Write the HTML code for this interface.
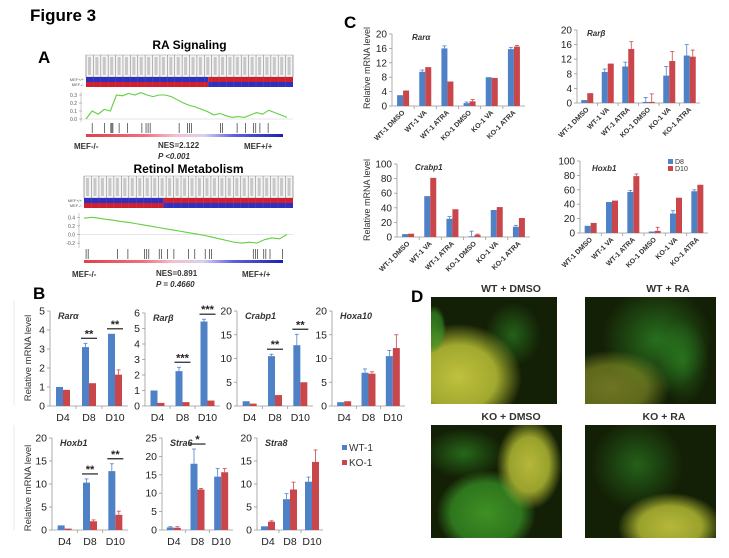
<!DOCTYPE html>
<html><head><meta charset="utf-8"><style>
html,body{margin:0;padding:0;background:#fff;}
svg{display:block;font-family:"Liberation Sans",sans-serif;}
</style></head><body>
<svg id="fig" width="729" height="558" viewBox="0 0 729 558" xmlns="http://www.w3.org/2000/svg">
<defs>
<linearGradient id="gsea" x1="0" x2="1" y1="0" y2="0"><stop offset="0" stop-color="#e0404a"/><stop offset="0.3" stop-color="#f07080"/><stop offset="0.45" stop-color="#f4c0d0"/><stop offset="0.6" stop-color="#d8d0f0"/><stop offset="0.75" stop-color="#6060e0"/><stop offset="1" stop-color="#2020b0"/></linearGradient>
<radialGradient id="yel" cx="0.5" cy="0.5" r="0.5"><stop offset="0" stop-color="#c8c840"/><stop offset="0.6" stop-color="#a8b030"/><stop offset="1" stop-color="#a8b030" stop-opacity="0"/></radialGradient>
<radialGradient id="grn" cx="0.5" cy="0.5" r="0.5"><stop offset="0" stop-color="#38b030"/><stop offset="1" stop-color="#38b030" stop-opacity="0"/></radialGradient>
<radialGradient id="grn2" cx="0.5" cy="0.5" r="0.5"><stop offset="0" stop-color="#50c030"/><stop offset="0.7" stop-color="#3a9a28"/><stop offset="1" stop-color="#3a9a28" stop-opacity="0"/></radialGradient>
</defs>
<text x="30" y="21" font-size="17" font-weight="bold">Figure 3</text>
<text x="38" y="63" font-size="17" font-weight="bold">A</text>
<text x="33" y="299" font-size="17" font-weight="bold">B</text>
<text x="344" y="28" font-size="17" font-weight="bold">C</text>
<text x="411" y="302" font-size="17" font-weight="bold">D</text>
<g id="panelA"></g>
<g id="panelB"></g>
<g id="panelC"></g>
<g id="panelD"></g>
</svg>
<script>
// ---------- Panel A data ----------
const raES = [0.0,0.1,0.06,0.12,0.1,0.3,0.29,0.32,0.3,0.33,0.3,0.28,0.3,0.3,0.28,0.24,0.2,0.17,0.15,0.12,0.09,0.05,0.07,0.04,0.02,0.03,0.02,0.05,0.08,0.06,0.11,0.08,0.05,0.02];
const raHits = [0.03,0.09,0.12,0.125,0.13,0.16,0.2,0.27,0.29,0.3,0.31,0.45,0.49,0.5,0.51,0.65,0.66,0.73,0.77,0.81,0.82,0.84,0.88];
const reES = [0.38,0.4,0.38,0.35,0.33,0.3,0.28,0.25,0.22,0.19,0.16,0.13,0.1,0.07,0.04,0.01,-0.02,-0.06,-0.1,-0.14,-0.18,-0.2,-0.18,-0.2,-0.12,-0.08,-0.1,0.0];
const reHits = [0.01,0.02,0.16,0.21,0.29,0.3,0.31,0.36,0.37,0.4,0.43,0.5,0.53,0.58,0.6,0.61,0.81,0.82,0.83,0.86,0.87,0.89,0.95];
const raTicks = [0.3,0.2,0.1,0.0];
const reTicks = [0.4,0.2,0.0,-0.2];

// ---------- Panel B data ----------
const bCats = ["D4","D8","D10"];
const raraWT=[1,3.1,3.8], raraKO=[0.85,1.2,1.65], raraWTe=[0,0.2,0], raraKOe=[0,0,0.25], raraSig=["","**","**"];
const rarbWT=[1,2.25,5.45], rarbKO=[0.2,0.25,0.35], rarbWTe=[0,0.25,0.15], rarbKOe=[0,0,0], rarbSig=["","***","***"];
const crabWT=[1,10.5,12.8], crabKO=[0.5,2.3,5], crabWTe=[0,0.4,2.3], crabKOe=[0,0,0], crabSig=["","**","**"];
const hoxaWT=[0.8,7,10.5], hoxaKO=[1,6.8,12.2], hoxaWTe=[0,0.8,1.2], hoxaKOe=[0,0.4,2.8], hoxaSig=["","",""];
const hoxbWT=[1,10.3,12.8], hoxbKO=[0.3,1.9,3.3], hoxbWTe=[0,0.8,1.6], hoxbKOe=[0,0.3,0.8], hoxbSig=["","**","**"];
const stra6WT=[0.7,18,14.5], stra6KO=[0.6,11,15.7], stra6WTe=[0.2,4,2.2], stra6KOe=[0.3,0.3,1], stra6Sig=["","*",""];
const stra8WT=[0.8,6.7,10.5], stra8KO=[1.8,8.8,14.8], stra8WTe=[0,1.2,1], stra8KOe=[0.2,1.6,2.6], stra8Sig=["","",""];
const ticks5=[0,1,2,3,4,5], ticks6=[0,1,2,3,4,5,6], ticks20=[0,5,10,15,20], ticks25=[0,5,10,15,20,25];

// ---------- Panel C data ----------
const cCats = ["WT-1 DMSO","WT-1 VA","WT-1 ATRA","KO-1 DMSO","KO-1 VA","KO-1 ATRA"];
const cRaraD8=[3,9.5,16,0.8,8,15.8], cRaraD10=[4.3,10.8,6.8,1.3,7.8,16.5], cRaraD8e=[0,0.5,0.7,0.3,0,0.5], cRaraD10e=[0,0,0,0.5,0,0.3];
const cRarbD8=[0.8,8.5,10,0.3,7.5,13], cRarbD10=[2.7,10.8,14.8,0.3,11.5,12.7], cRarbD8e=[0,0.8,1.2,1.2,2.5,3], cRarbD10e=[0,0,2,2.2,2.6,1.8];
const cCrabD8=[4,56,25,1,37,14], cCrabD10=[4.5,81,38,3,41,26], cCrabD8e=[0,0,3,7,0,2], cCrabD10e=[0,0,0,1,0,0];
const cHoxbD8=[10,43,57,2,27,58], cHoxbD10=[14,45,79,3,49,67], cHoxbD8e=[0,0,2,0,4,2], cHoxbD10e=[0,0,3,5,0,0];
const cTicks20=[0,4,8,12,16,20], cTicks100=[0,20,40,60,80,100];
const none6=["","","","","",""];

const NS="http://www.w3.org/2000/svg";
const BLUE="#4f81c7", RED="#c9474a";
function mk(tag, attrs, parent){const e=document.createElementNS(NS,tag);for(const k in attrs)e.setAttribute(k,attrs[k]);parent.appendChild(e);return e;}
function txt(parent, x, y, s, attrs){const t=mk('text',Object.assign({x:x,y:y},attrs||{}),parent);t.textContent=s;return t;}

// ---------- Panel A ----------
function gsea(cfg){
  const A=document.getElementById('panelA');
  const g=mk('g',{},A);
  
  
  const t=txt(g,(cfg.x0+cfg.x1)/2,cfg.titleY,cfg.title,{'font-size':12,'font-weight':'bold','text-anchor':'middle'});
  
  
  mk('rect',{x:cfg.x0,y:cfg.hy,width:cfg.x1-cfg.x0,height:cfg.hh,fill:'#f4f4f4',stroke:'#999','stroke-width':0.5},g);
  const n=28;
  for(let i=0;i<=n;i++){const x=cfg.x0+(cfg.x1-cfg.x0)*i/n;mk('line',{x1:x,x2:x,y1:cfg.hy,y2:cfg.hy+cfg.hh,stroke:'#888','stroke-width':0.6},g);
    if(i<n){mk('rect',{x:x+2,y:cfg.hy+2,width:3,height:cfg.hh-4,fill:'#c8c8c8'},g);}}
  const xs=cfg.x0+(cfg.x1-cfg.x0)*cfg.split;
  const rh=cfg.rh;
  mk('rect',{x:cfg.x0,y:cfg.hy+cfg.hh,width:xs-cfg.x0,height:rh,fill:'#3030c0'},g);
  mk('rect',{x:cfg.x0,y:cfg.hy+cfg.hh+rh,width:xs-cfg.x0,height:rh,fill:'#d02030'},g);
  mk('rect',{x:xs,y:cfg.hy+cfg.hh,width:cfg.x1-xs,height:rh,fill:'#d02030'},g);
  mk('rect',{x:xs,y:cfg.hy+cfg.hh+rh,width:cfg.x1-xs,height:rh,fill:'#3030c0'},g);
  for(let i=1;i<n;i++){const x=cfg.x0+(cfg.x1-cfg.x0)*i/n;mk('line',{x1:x,x2:x,y1:cfg.hy+cfg.hh,y2:cfg.hy+cfg.hh+2*rh,stroke:'#8080a0','stroke-width':0.3,opacity:0.6},g);}
  txt(g,cfg.x0-2,cfg.hy+cfg.hh+rh-1,'MEF+/+',{'font-size':4,'text-anchor':'end',fill:'#555'});
  txt(g,cfg.x0-2,cfg.hy+cfg.hh+2*rh-1,'MEF-/-',{'font-size':4,'text-anchor':'end',fill:'#555'});
  const py=v=>cfg.zeroY - v*cfg.scale;
  const px=i=>cfg.x0+(cfg.x1-cfg.x0-6)*i/(cfg.es.length-1);
  mk('line',{x1:cfg.x0-5,x2:cfg.x0-5,y1:cfg.plotTop,y2:cfg.plotBot,stroke:'#aaa','stroke-width':0.6},g);
  mk('line',{x1:cfg.x0-5,x2:cfg.x1,y1:py(0),y2:py(0),stroke:'#ccc','stroke-width':0.6},g);
  cfg.ticks.forEach(v=>{mk('line',{x1:cfg.x0-7,x2:cfg.x0-4,y1:py(v),y2:py(v),stroke:'#888','stroke-width':0.5},g);
    txt(g,cfg.x0-9,py(v)+2,v.toFixed(1),{'font-size':5,'text-anchor':'end',fill:'#555'});});
  const line=mk('polyline',{points:cfg.es.map((v,i)=>px(i)+','+py(v)).join(' '),fill:'none',stroke:'#60d040','stroke-width':1.1},g);
  
  
  cfg.hits.forEach(f=>{const x=cfg.x0+(cfg.x1-cfg.x0)*f;mk('line',{x1:x,x2:x,y1:cfg.hitY,y2:cfg.hitY+10,stroke:'#333','stroke-width':0.7},g);});
  mk('rect',{x:cfg.x0,y:cfg.hitY+11,width:cfg.x1-cfg.x0-10,height:3,fill:'url(#gsea)'},g);
  txt(g,cfg.x0-12,cfg.labY,'MEF-/-',{'font-size':8,'font-weight':'bold',fill:'#333'});
  txt(g,cfg.x0+72,cfg.labY-1,cfg.nes,{'font-size':8,'font-weight':'bold',fill:'#333'});
  txt(g,cfg.x0+158,cfg.labY,'MEF+/+',{'font-size':8,'font-weight':'bold',fill:'#333'});
  txt(g,cfg.x0+72,cfg.labY+10,cfg.p,{'font-size':8,'font-weight':'bold','font-style':'italic',fill:'#333'});
}
gsea({name:'gsea-ra-signaling',title:'RA Signaling',titleY:49,x0:86,x1:293,hy:55,hh:22,rh:5,split:0.59,zeroY:119,scale:80,plotTop:92,plotBot:122,ticks:raTicks,es:raES,hits:raHits,hitY:123,labY:149,nes:'NES=2.122',p:'P <0.001'});
gsea({name:'gsea-retinol-metabolism',title:'Retinol Metabolism',titleY:173,x0:84,x1:293,hy:176,hh:22,rh:5,split:0.38,zeroY:234.5,scale:43,plotTop:213,plotBot:248,ticks:reTicks,es:reES,hits:reHits,hitY:249,labY:277,nes:'NES=0.891',p:'P = 0.4660'});

// ---------- Generic bar chart ----------
function bars(parent, cfg){
  const g=mk('g',{},parent);
  
  
  const maxV=cfg.ticks[cfg.ticks.length-1];
  const y=v=>cfg.y0-(cfg.y0-cfg.yTop)*v/maxV;
  const band=(cfg.x1-cfg.x0)/cfg.cats.length;
  const cx=i=>cfg.x0+band*(i+0.5);
  mk('line',{x1:cfg.x0,x2:cfg.x0,y1:cfg.yTop,y2:cfg.y0,stroke:'#999','stroke-width':0.8},g);
  mk('line',{x1:cfg.x0,x2:cfg.x1,y1:cfg.y0,y2:cfg.y0,stroke:'#999','stroke-width':0.8},g);
  cfg.ticks.forEach(v=>{mk('line',{x1:cfg.x0-3,x2:cfg.x0,y1:y(v),y2:y(v),stroke:'#999','stroke-width':0.8},g);
    const t=txt(g,cfg.x0-5,y(v)+3.5,String(v),{'font-size':cfg.fs,'text-anchor':'end',fill:'#222'});
    
    });
  for(let i=1;i<cfg.cats.length;i++){mk('line',{x1:cfg.x0+band*i,x2:cfg.x0+band*i,y1:cfg.y0,y2:cfg.y0+3,stroke:'#999','stroke-width':0.8},g);}
  const bw=cfg.bw;
  cfg.cats.forEach((c,i)=>{
    [[cfg.s1,cfg.e1,BLUE,-1],[cfg.s2,cfg.e2,RED,0]].forEach(([s,e,col,off])=>{
      const bx=cx(i)+off*bw;
      const r=mk('rect',{x:bx,y:y(s[i]),width:bw,height:cfg.y0-y(s[i]),fill:col},g);
      
      
      if(e[i]>0){const xm=bx+bw/2;mk('line',{x1:xm,x2:xm,y1:y(s[i]),y2:y(s[i]+e[i]),stroke:col,'stroke-width':0.8},g);
        mk('line',{x1:xm-2,x2:xm+2,y1:y(s[i]+e[i]),y2:y(s[i]+e[i]),stroke:col,'stroke-width':0.8},g);}
    });
    if(cfg.sig && cfg.sig[i]){
      const top=Math.min(y(cfg.s1[i]+cfg.e1[i]),y(cfg.s2[i]+cfg.e2[i]))-5;
      mk('line',{x1:cx(i)-bw-1,x2:cx(i)+bw+1,y1:top,y2:top,stroke:'#222','stroke-width':1.2},g);
      txt(g,cx(i),top-1,cfg.sig[i],{'font-size':11,'font-weight':'bold','text-anchor':'middle',fill:'#222'});
    }
    if(cfg.rot){
      const t=txt(g,cx(i)+2,cfg.y0+7,c,{'font-size':7,'font-weight':'bold','text-anchor':'end',fill:'#333',transform:'rotate(-45 '+(cx(i)+2)+' '+(cfg.y0+7)+')'});
      
      
    } else {
      const t=txt(g,cx(i),cfg.y0+15,c,{'font-size':10.5,'text-anchor':'middle',fill:'#222'});
      
      
    }
  });
  const tt=txt(g,cfg.x0+cfg.titleDx,cfg.yTop+cfg.titleDy,cfg.title,{'font-size':cfg.tfs,'font-weight':'bold','font-style':'italic',fill:'#333'});
  
  
}

// ---------- Panel B ----------
const PB=document.getElementById('panelB');
const bBase={cats:bCats,bw:7,fs:10.5,tfs:9,titleDx:8,titleDy:8};
bars(PB,Object.assign({},bBase,{name:'chart-b-rara',title:'Rarα',x0:50,x1:128,y0:406,yTop:311,ticks:ticks5,s1:raraWT,s2:raraKO,e1:raraWTe,e2:raraKOe,sig:raraSig}));
bars(PB,Object.assign({},bBase,{name:'chart-b-rarb',title:'Rarβ',x0:145,x1:220,y0:406,yTop:313,ticks:ticks6,s1:rarbWT,s2:rarbKO,e1:rarbWTe,e2:rarbKOe,sig:rarbSig}));
bars(PB,Object.assign({},bBase,{name:'chart-b-crabp1',title:'Crabp1',x0:237,x1:313,y0:406,yTop:311,ticks:ticks20,s1:crabWT,s2:crabKO,e1:crabWTe,e2:crabKOe,sig:crabSig}));
bars(PB,Object.assign({},bBase,{name:'chart-b-hoxa10',title:'Hoxa10',x0:332,x1:405,y0:406,yTop:311,ticks:ticks20,s1:hoxaWT,s2:hoxaKO,e1:hoxaWTe,e2:hoxaKOe,sig:hoxaSig}));
bars(PB,Object.assign({},bBase,{name:'chart-b-hoxb1',title:'Hoxb1',x0:52,x1:128,y0:530,yTop:438,ticks:ticks20,s1:hoxbWT,s2:hoxbKO,e1:hoxbWTe,e2:hoxbKOe,sig:hoxbSig}));
bars(PB,Object.assign({},bBase,{name:'chart-b-stra6',title:'Stra6',x0:162,x1:233,y0:530,yTop:438,ticks:ticks25,s1:stra6WT,s2:stra6KO,e1:stra6WTe,e2:stra6KOe,sig:stra6Sig}));
bars(PB,Object.assign({},bBase,{name:'chart-b-stra8',title:'Stra8',x0:257,x1:323,y0:530,yTop:438,ticks:ticks20,s1:stra8WT,s2:stra8KO,e1:stra8WTe,e2:stra8KOe,sig:stra8Sig}));
(function(){
  let t=txt(PB,0,0,'Relative mRNA level',{'font-size':9.5,'text-anchor':'middle',fill:'#333',transform:'translate(31 358) rotate(-90)'});
  
  
  t=txt(PB,0,0,'Relative mRNA level',{'font-size':9.5,'text-anchor':'middle',fill:'#333',transform:'translate(31 488) rotate(-90)'});
  
  
  mk('line',{x1:14,x2:14,y1:300,y2:405,stroke:'#ddd','stroke-width':0.6},PB);
  mk('line',{x1:14,x2:14,y1:425,y2:530,stroke:'#ddd','stroke-width':0.6},PB);
  const lg=mk('g',{},PB);
  
  
  mk('rect',{x:342,y:445,width:5,height:5,fill:BLUE},lg);
  txt(lg,349,451,'WT-1',{'font-size':10,fill:'#333'});
  mk('rect',{x:342,y:460,width:5,height:5,fill:RED},lg);
  txt(lg,349,466,'KO-1',{'font-size':10,fill:'#333'});
})();

// ---------- Panel C ----------
const PC=document.getElementById('panelC');
const cBase={cats:cCats,bw:6,fs:10,tfs:8,titleDx:20,titleDy:6,rot:true,sig:none6};
bars(PC,Object.assign({},cBase,{name:'chart-c-rara',title:'Rarα',x0:392,x1:525,y0:106,yTop:34,ticks:cTicks20,s1:cRaraD8,s2:cRaraD10,e1:cRaraD8e,e2:cRaraD10e}));
bars(PC,Object.assign({},cBase,{name:'chart-c-rarb',title:'Rarβ',x0:577,x1:700,y0:103,yTop:30,ticks:cTicks20,s1:cRarbD8,s2:cRarbD10,e1:cRarbD8e,e2:cRarbD10e,titleDx:10}));
bars(PC,Object.assign({},cBase,{name:'chart-c-crabp1',title:'Crabp1',x0:397,x1:530,y0:237,yTop:164,ticks:cTicks100,s1:cCrabD8,s2:cCrabD10,e1:cCrabD8e,e2:cCrabD10e,titleDx:18}));
bars(PC,Object.assign({},cBase,{name:'chart-c-hoxb1',title:'Hoxb1',x0:580,x1:708,y0:233,yTop:161,ticks:cTicks100,s1:cHoxbD8,s2:cHoxbD10,e1:cHoxbD8e,e2:cHoxbD10e,titleDx:12,titleDy:10}));
(function(){
  let t=txt(PC,0,0,'Relative mRNA level',{'font-size':9,'text-anchor':'middle',fill:'#333',transform:'translate(370 68) rotate(-90)'});
  
  
  t=txt(PC,0,0,'Relative mRNA level',{'font-size':9,'text-anchor':'middle',fill:'#333',transform:'translate(370 200) rotate(-90)'});
  
  
  const lg=mk('g',{},PC);
  
  
  mk('rect',{x:668,y:159,width:5,height:5,fill:BLUE},lg);
  txt(lg,675,164,'D8',{'font-size':7,fill:'#333'});
  mk('rect',{x:668,y:166,width:5,height:5,fill:RED},lg);
  txt(lg,675,171,'D10',{'font-size':7,fill:'#333'});
})();

// ---------- Panel D ----------
const PD=document.getElementById('panelD');
function photo(name,title,x,y,w,h,blobs,tx){
  const g=mk('g',{},PD);
  
  
  const t=txt(g,tx,y-5,title,{'font-size':10.5,'font-weight':'bold','text-anchor':'middle',fill:'#333'});
  
  
  const cp='cp'+name;
  const c=mk('clipPath',{id:cp},g);mk('rect',{x:x,y:y,width:w,height:h},c);
  const inner=mk('g',{'clip-path':'url(#'+cp+')'},g);
  mk('rect',{x:x,y:y,width:w,height:h,fill:'#142006'},inner);
  blobs.forEach(b=>mk('ellipse',{cx:x+b[0]*w,cy:y+b[1]*h,rx:b[2]*w,ry:b[3]*h,fill:'url(#'+b[4]+')',opacity:b[5]},inner));
}
photo('image-wt-dmso','WT + DMSO',431,297,126,107,[[0.65,0.35,0.22,0.3,'grn',0.45],[0.22,0.75,0.5,0.5,'yel',0.95],[0.02,0.3,0.1,0.22,'grn2',0.6]],511);
photo('image-wt-ra','WT + RA',585,297,131,107,[[0.55,0.4,0.42,0.5,'grn',0.55],[0.2,0.85,0.45,0.35,'yel',0.5],[0.75,0.6,0.2,0.4,'grn',0.45]],668);
photo('image-ko-dmso','KO + DMSO',431,425,131,113,[[0.25,0.25,0.3,0.22,'grn',0.5],[0.42,0.78,0.38,0.38,'grn2',0.7],[0.75,0.35,0.25,0.4,'yel',0.9]],511);
photo('image-ko-ra','KO + RA',585,425,131,113,[[0.4,0.35,0.35,0.4,'grn',0.45],[0.65,0.9,0.4,0.3,'yel',0.9]],664);
</script>
</body></html>
